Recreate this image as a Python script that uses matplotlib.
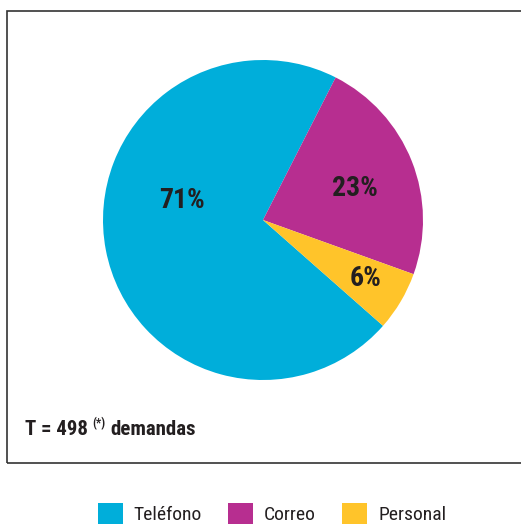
import matplotlib
matplotlib.use('Agg')
import matplotlib.pyplot as plt
import matplotlib.patches as patches
from matplotlib import font_manager

# data
categories = ['Teléfono', 'Correo', 'Personal']
shares = [71, 23, 6]
colors = ['#00AEDA', '#B72E90', '#FFC42A']
total_label = 'T = 498'
note_mark = '(*)'
unit_label = 'demandas'

avail = {f.name for f in font_manager.fontManager.ttflist}
cands = ['Roboto Condensed', 'Liberation Sans Narrow', 'DejaVu Sans Condensed',
         'Open Sans Condensed', 'Noto Sans Condensed', 'Arial Narrow']
found = [c for c in cands if c in avail]
if found:
    plt.rcParams['font.family'] = [found[0], 'DejaVu Sans']
    stretch = 'normal'
else:
    plt.rcParams['font.family'] = ['DejaVu Sans']
    stretch = 'condensed'
plt.rcParams['font.stretch'] = stretch

W, H = 521, 527
ink = '#231F20'
fig = plt.figure(figsize=(W / 100, H / 100), dpi=100)

# frame around the chart (runs off the right edge)
box = patches.Rectangle((7 / W, 1 - 463 / H), 1.0, (463 - 11) / H,
                        transform=fig.transFigure, fill=False,
                        edgecolor='#333333', linewidth=1.2)
fig.add_artist(box)

# pie, center (263, 220) px, radius 160 px
cx, cy, r = 263, 220, 160
ax = fig.add_axes([(cx - r) / W, 1 - (cy + r) / H, 2 * r / W, 2 * r / H])
wedges, _ = ax.pie(shares, colors=colors, startangle=318.6, counterclock=False,
                   radius=1, wedgeprops=dict(linewidth=0))
ax.set_xlim(-1, 1)
ax.set_ylim(-1, 1)
ax.axis('off')

label_pos = [(-0.505, 0.12), (0.575, 0.195), (0.64, -0.365)]
for (x, y), v in zip(label_pos, shares):
    ax.text(x, y, f'{v}%', ha='center', va='center', fontsize=20,
            fontweight='bold', color=ink)

# total note, pieces placed one after another
renderer = fig.canvas.get_renderer()
base_y = 1 - 435 / H
t1 = fig.text(25 / W, base_y, total_label, fontsize=15, fontweight='bold',
              color=ink, ha='left', va='baseline')
x_end = t1.get_window_extent(renderer).x1 + 4
t2 = fig.text(x_end / W, base_y + 8 / H, note_mark, fontsize=8.5, fontweight='bold',
              color=ink, ha='left', va='baseline')
x_end = t2.get_window_extent(renderer).x1 + 5
fig.text(x_end / W, base_y, unit_label, fontsize=15, fontweight='bold',
         color=ink, ha='left', va='baseline')

handles = [patches.Patch(facecolor=c, edgecolor='none') for c in colors]
fig.legend(handles, categories, loc='lower center', ncol=3, frameon=False,
           bbox_to_anchor=(0.522, -0.028), fontsize=14, handlelength=1.3,
           handleheight=1.3, handletextpad=0.55, columnspacing=1.35,
           labelcolor=ink)

fig.savefig('out.png', dpi=100)
